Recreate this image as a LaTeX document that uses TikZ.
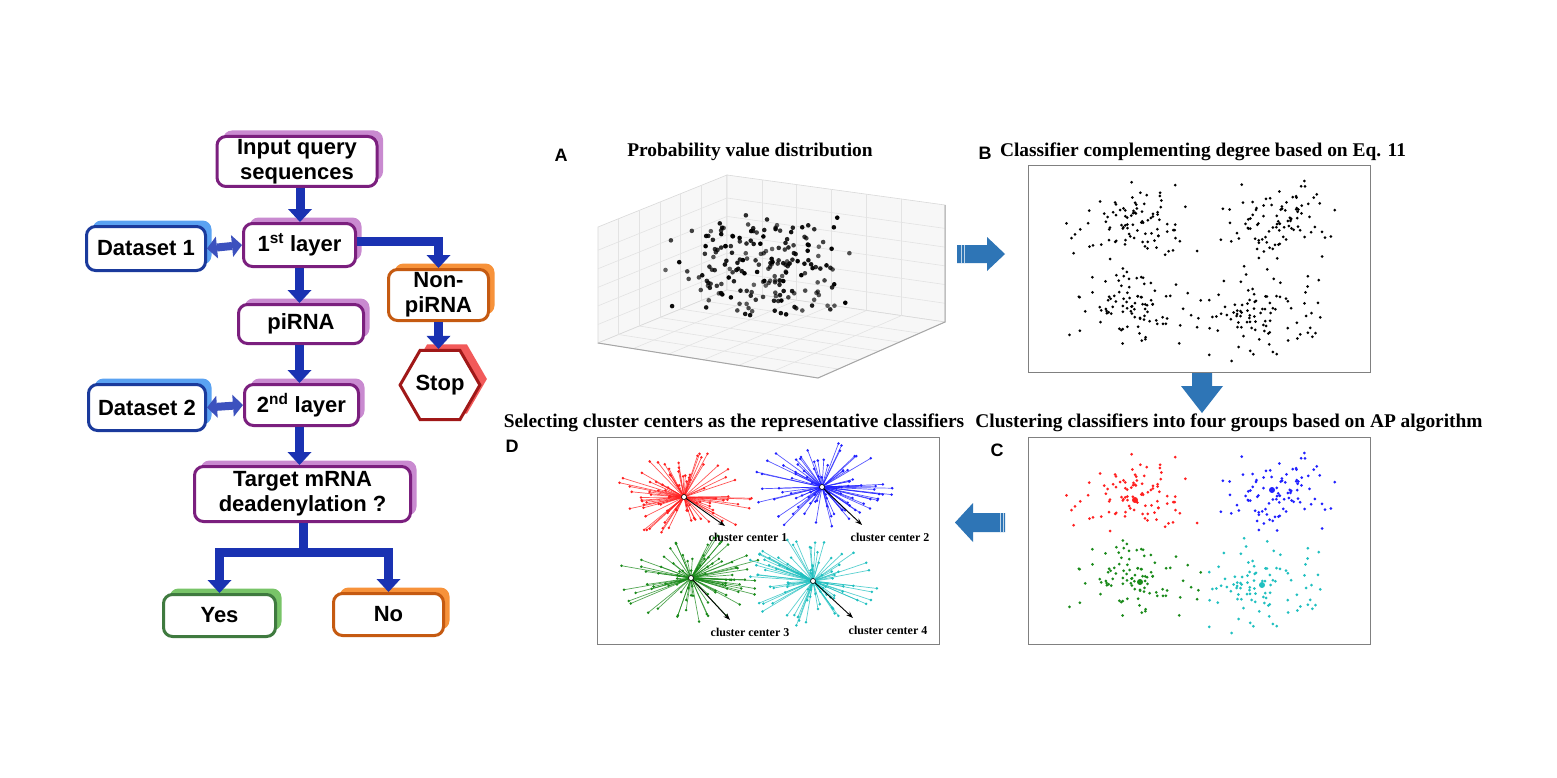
\documentclass[tikz,border=0pt]{standalone}
\usepackage{fontspec}
\setmainfont{Liberation Serif}
\newfontfamily\arialfont{Liberation Sans}
\usetikzlibrary{shapes.geometric,shadows,arrows.meta,calc}

\definecolor{purp}{HTML}{7B1F7E}
\definecolor{purpsh}{HTML}{C98AD0}
\definecolor{dblue}{HTML}{1A3A9C}
\definecolor{dbluesh}{HTML}{5AA2F2}
\definecolor{orng}{HTML}{C55A11}
\definecolor{orngsh}{HTML}{F7923A}
\definecolor{dred}{HTML}{A01818}
\definecolor{dredsh}{HTML}{F25A5A}
\definecolor{dgreen}{HTML}{3F7A3F}
\definecolor{dgreensh}{HTML}{78C468}
\definecolor{flowarrow}{HTML}{1A32B2}
\definecolor{panelarrow}{HTML}{2E75B6}
\definecolor{cred}{HTML}{FF2020}
\definecolor{cblue}{HTML}{2020FF}
\definecolor{cgreen}{HTML}{1A8A1A}
\definecolor{ccyan}{HTML}{20C0C0}

\newcommand\flowfont{\arialfont\bfseries\fontsize{22}{25}\selectfont}
\newcommand\panelfont{\arialfont\bfseries\fontsize{18}{20}\selectfont}
\newcommand\titlefont{\bfseries\fontsize{19.4}{21}\selectfont}
\newcommand\ccfont{\bfseries\fontsize{12}{14}\selectfont}

% dot cloud: cx cy sx sy n seed color
\newcommand\dotcloud[7]{%
  \pgfmathsetseed{#6}%
  \foreach \k in {1,...,#5}{%
    \pgfmathsetmacro\px{#1+#3*(rand+rand+rand)}%
    \pgfmathsetmacro\py{#2+#4*(rand+rand+rand)}%
    \fill[#7] (\px,\py) circle (1.5pt);
  }}
% star cluster: cx cy color n seed
\newcommand\starcluster[5]{%
  \pgfmathsetseed{#5}%
  \foreach \k in {1,...,#4}{%
    \pgfmathsetmacro\ang{360*rnd}%
    \pgfmathsetmacro\rad{10+52*rnd}%
    \pgfmathsetmacro\px{#1+1.18*\rad*cos(\ang)}%
    \pgfmathsetmacro\py{#2+0.74*\rad*sin(\ang)}%
    \draw[#3, line width=0.7pt, opacity=0.75] (#1,#2) -- (\px,\py);
    \fill[#3] (\px,\py) circle (1.4pt);
  }}

\begin{document}
\begin{tikzpicture}[x=1pt,y=-1pt,
  fb/.style 2 args={draw=#1, line width=3pt, rounded corners=9pt, fill=white,
    general shadow={fill=#2, shadow xshift=6pt, shadow yshift=6pt},
    align=center, font=\flowfont, inner sep=0pt},
  stopbox/.style={regular polygon, regular polygon sides=6, minimum size=76pt,
    draw=dred, line width=3pt, fill=white,
    general shadow={fill=dredsh, shadow xshift=7pt, shadow yshift=6pt},
    inner sep=0pt, font=\flowfont},
  farrow/.style={draw=flowarrow, line width=9pt,
    -{Triangle[width=24pt,length=13pt,line width=0pt]}},
  fline/.style={draw=flowarrow, line width=9pt},
  darrow/.style={draw=flowarrow!85!white, line width=8pt,
    {Triangle[width=22pt,length=10pt,line width=0pt]}-{Triangle[width=22pt,length=10pt,line width=0pt]}},
  panelbox/.style={draw=gray, line width=1.3pt, minimum width=342pt, minimum height=207pt, inner sep=0pt},
  plabel/.style={font=\panelfont, inner sep=0pt},
  ptitle/.style={font=\titlefont, inner sep=0pt},
  cclabel/.style={font=\ccfont, inner sep=0pt},
  parrow/.style={fill=panelarrow},
  pane/.style={fill=gray!6, draw=gray!30, line width=0.6pt},
  gridl/.style={draw=gray!22, line width=0.6pt},
  axisl/.style={draw=gray!70, line width=1pt},
  ccarrow/.style={draw=black, line width=0.9pt, -{Stealth[length=7pt,width=5pt]}},
  ]
\useasboundingbox (0,0) rectangle (1557,778);
\fill[white] (0,0) rectangle (1557,778);

% ---------------- flowchart ----------------
\node[fb={purp}{purpsh}, minimum width=160pt, minimum height=50pt] (inp) at (297,161.5) {Input query\\sequences};
\node[fb={purp}{purpsh}, minimum width=112pt, minimum height=43pt] (l1) at (299.5,245) {1\textsuperscript{st} layer};
\node[fb={dblue}{dbluesh}, minimum width=119pt, minimum height=44pt] (ds1) at (146,248.5) {Dataset 1};
\node[fb={orng}{orngsh}, minimum width=100pt, minimum height=51pt] (non) at (438.5,295) {Non-\\piRNA};
\node[stopbox] (stop) at (440,385) {Stop};
\node[fb={purp}{purpsh}, minimum width=125pt, minimum height=39pt] (pi) at (301,324) {piRNA};
\node[fb={purp}{purpsh}, minimum width=114pt, minimum height=41pt] (l2) at (301.5,405) {2\textsuperscript{nd} layer};
\node[fb={dblue}{dbluesh}, minimum width=117pt, minimum height=46pt] (ds2) at (147,407.5) {Dataset 2};
\node[fb={purp}{purpsh}, minimum width=216pt, minimum height=55pt] (tgt) at (302.5,494) {Target mRNA\\deadenylation ?};
\node[fb={dgreen}{dgreensh}, minimum width=112pt, minimum height=42pt] (yes) at (219.5,615.5) {Yes};
\node[fb={orng}{orngsh}, minimum width=110pt, minimum height=42pt] (no) at (388.5,614.5) {No};

\draw[farrow] ([xshift=3pt]inp.south) -- ([xshift=3pt]inp.south |- l1.north);
\draw[farrow] (l1.south) -- (l1.south |- pi.north);
\draw[farrow] (l1.south |- pi.south) -- (l1.south |- l2.north);
\draw[farrow] (l1.south |- l2.south) -- (l1.south |- tgt.north);
\draw[farrow] ([yshift=4pt]l1.east) -| (non.north);
\draw[farrow] (non.south) -- (non.south |- stop.north);
\draw[darrow] (ds1.east) -- (l1.west);
\draw[darrow] (ds2.east) -- (l2.west);
\coordinate (br) at (303,552);
\draw[fline] (tgt.south -| br) -- (br);
\draw[farrow] (br) -| (yes.north);
\draw[farrow] (br) -| (no.north);

% ---------------- panel A ----------------
\node[plabel] (labA) at (561,155) {A};
\node[ptitle] (titA) at (750,152) {Probability value distribution};
\coordinate (L1) at (598,227);
\coordinate (L2) at (727,175);
\coordinate (L3) at (727,290);
\coordinate (L4) at (598,343);
\coordinate (R1) at (945,205);
\coordinate (R2) at (945,322);
\coordinate (F) at (818,378);
\draw[pane] (L4) -- (L1) -- (L2) -- (L3) -- cycle;
\draw[pane] (L3) -- (L2) -- (R1) -- (R2) -- cycle;
\draw[pane] (L4) -- (L3) -- (R2) -- (F) -- cycle;
\foreach \t in {0.16,0.32,0.48,0.64,0.80}{
  \draw[gridl] ($(L4)!\t!(L3)$) -- ($(L1)!\t!(L2)$);
  \draw[gridl] ($(L4)!\t!(L1)$) -- ($(L3)!\t!(L2)$);
  \draw[gridl] ($(L3)!\t!(R2)$) -- ($(L2)!\t!(R1)$);
  \draw[gridl] ($(R2)!\t!(R1)$) -- ($(L3)!\t!(L2)$);
  \draw[gridl] ($(L4)!\t!(L3)$) -- ($(F)!\t!(R2)$);
  \draw[gridl] ($(L4)!\t!(F)$) -- ($(L3)!\t!(R2)$);
}
\draw[axisl] (L4) -- (F) -- (R2) -- (R1);
\pgfmathsetseed{77}
\foreach \k in {1,...,200}{
  \pgfmathsetmacro\px{758+62*(rand+0.55*rand)}
  \pgfmathsetmacro\py{265+44*(rand+0.4*rand)}
  \pgfmathsetmacro\op{0.6+0.4*rnd}
  \fill[black, opacity=\op] (\px,\py) circle (2.3pt);
}

% arrow A -> B
\fill[parrow] (957,245) -- (987,245) -- (987,237) -- (1005,254) -- (987,271) -- (987,263) -- (957,263) -- cycle;
\draw[white!70!panelarrow, line width=0.8pt] (961,245) -- (961,263) (964,245) -- (964,263);

% ---------------- panel B ----------------
\node[plabel] (labB) at (985,153) {B};
\node[ptitle] (titB) at (1203,152) {Classifier complementing degree based on Eq. 11};
\node[panelbox] (boxB) at (1199.5,269) {};
\dotcloud{1130}{225}{25}{17}{95}{11}{black}
\dotcloud{1275}{222}{27}{18}{95}{12}{black}
\dotcloud{1135}{308}{26}{16}{95}{13}{black}
\dotcloud{1262}{312}{27}{18}{95}{14}{black}

% arrow B -> C
\fill[parrow] (1192,373) -- (1212,373) -- (1212,386) -- (1223,386) -- (1202,413) -- (1181,386) -- (1192,386) -- cycle;

% ---------------- panel C ----------------
\node[ptitle] (titC) at (1229,423) {Clustering classifiers into four groups based on AP algorithm};
\node[plabel] (labC) at (997,450) {C};
\node[panelbox] (boxC) at (1199.5,541) {};
\dotcloud{1130}{497}{25}{17}{95}{11}{cred}
\dotcloud{1275}{494}{27}{18}{95}{12}{cblue}
\dotcloud{1135}{580}{26}{16}{95}{13}{cgreen}
\dotcloud{1262}{584}{27}{18}{95}{14}{ccyan}
\fill[cred] (1135,500) circle (3pt);
\fill[cblue] (1272,490) circle (3pt);
\fill[cgreen] (1140,582) circle (3pt);
\fill[ccyan] (1262,585) circle (3pt);

% arrow C -> D
\fill[parrow] (1005,513) -- (973,513) -- (973,503) -- (955,522.5) -- (973,542) -- (973,532) -- (1005,532) -- cycle;
\draw[white!70!panelarrow, line width=0.8pt] (1000,513) -- (1000,532) (1003,513) -- (1003,532);

% ---------------- panel D ----------------
\node[ptitle] (titD) at (734,423) {Selecting cluster centers as the representative classifiers};
\node[plabel] (labD) at (512,446) {D};
\node[panelbox] (boxD) at (768.5,541) {};
\coordinate (c1) at (684,497);
\coordinate (c2) at (822,487);
\coordinate (c3) at (691,578);
\coordinate (c4) at (813,581);
\starcluster{684}{497}{cred}{90}{21}
\starcluster{822}{487}{cblue}{90}{22}
\starcluster{691}{578}{cgreen}{90}{23}
\starcluster{813}{581}{ccyan}{90}{24}
\coordinate (e1) at (725,526);
\coordinate (e2) at (862,525);
\coordinate (e3) at (730,620);
\coordinate (e4) at (853,618);
\draw[ccarrow] (c1) -- (e1);
\draw[ccarrow] (c2) -- (e2);
\draw[ccarrow] (c3) -- (e3);
\draw[ccarrow] (c4) -- (e4);
\foreach \c in {c1,c2,c3,c4}{
  \filldraw[fill=white, draw=black, line width=0.6pt] (\c) circle (2.5pt);
}
\node[cclabel] (cc1) at (748,537) {cluster center 1};
\node[cclabel] (cc2) at (890,537) {cluster center 2};
\node[cclabel] (cc3) at (750,632) {cluster center 3};
\node[cclabel] (cc4) at (888,630) {cluster center 4};
\end{tikzpicture}
\end{document}
